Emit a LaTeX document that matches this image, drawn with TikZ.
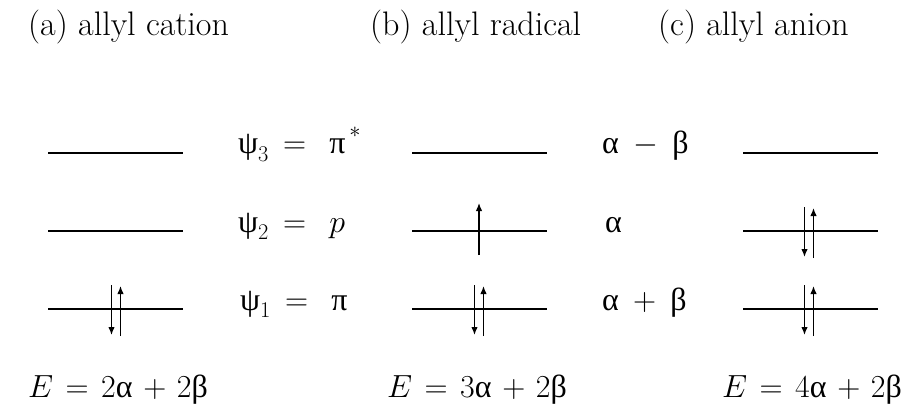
\RequirePackage{fix-cm}
\documentclass[tikz,border=0pt]{standalone}
\usepackage{fontspec}
\usetikzlibrary{arrows.meta}
\newfontfamily\grkfont{Liberation Serif}
\newcommand\gk[1]{\mbox{\grkfont #1}}
\tikzset{
  level/.style={line width=1.8pt},
  spin/.style={line width=1.3pt,-{Latex[length=8pt,width=6.5pt]}},
  title/.style={anchor=base west,inner sep=0pt,font=\fontsize{34}{40}\selectfont},
  lab/.style={anchor=base west,inner sep=0pt,font=\fontsize{32}{38}\selectfont}
}
\begin{document}
\begin{tikzpicture}[x=1pt,y=1pt]
    \useasboundingbox (0,0) rectangle (908,405);

    % headings
    \node[title] (ta) at (28,369) {(a) allyl cation};
    \node[title] (tb) at (370,369) {(b) allyl radical};
    \node[title] (tc) at (658,369) {(c) allyl anion};

    % energy levels
    \foreach \y in {96,174,252}
      \foreach \x in {48,412,743}
        \draw[level] (\x,\y) -- ++(135,0);

    % orbitals and energies
    \node[lab] (p3) at (238,251) {$\gk{ψ}_3 \mskip3mu = \mskip8mu \gk{π}^{\,\raisebox{5pt}{$\scriptstyle *$}}$};
    \node[lab] (p2) at (238,173) {$\gk{ψ}_2 \mskip3mu = \mskip8mu p$};
    \node[lab] (p1) at (240,95) {$\gk{ψ}_1 \mskip3mu = \mskip8mu \gk{π}$};
    \node[lab] (e3) at (602,251) {$\gk{α} \mskip4mu - \mskip4mu \gk{β}$};
    \node[lab] (e2) at (605,173) {$\gk{α}$};
    \node[lab] (e1) at (602,95) {$\gk{α} \mskip4mu + \mskip4mu \gk{β}$};

    % electrons
    \foreach \cx/\y in {116/96, 479/96, 809/96, 809/174} {
      \draw[spin] (\cx-4.5,\y+24) -- (\cx-4.5,\y-26);
      \draw[spin] (\cx+4.5,\y-27) -- (\cx+4.5,\y+23);
    }
    \draw[spin] (479,150) -- (479,202);

    % total energies
    \node[lab] (Ea) at (28,8) {$E \mskip2mu = \mskip2mu 2\gk{α} \mskip2mu + \mskip2mu 2\gk{β}$};
    \node[lab] (Eb) at (387,8) {$E \mskip2mu = \mskip2mu 3\gk{α} \mskip2mu + \mskip2mu 2\gk{β}$};
    \node[lab] (Ec) at (722,8) {$E \mskip2mu = \mskip2mu 4\gk{α} \mskip2mu + \mskip2mu 2\gk{β}$};
\end{tikzpicture}
\end{document}
